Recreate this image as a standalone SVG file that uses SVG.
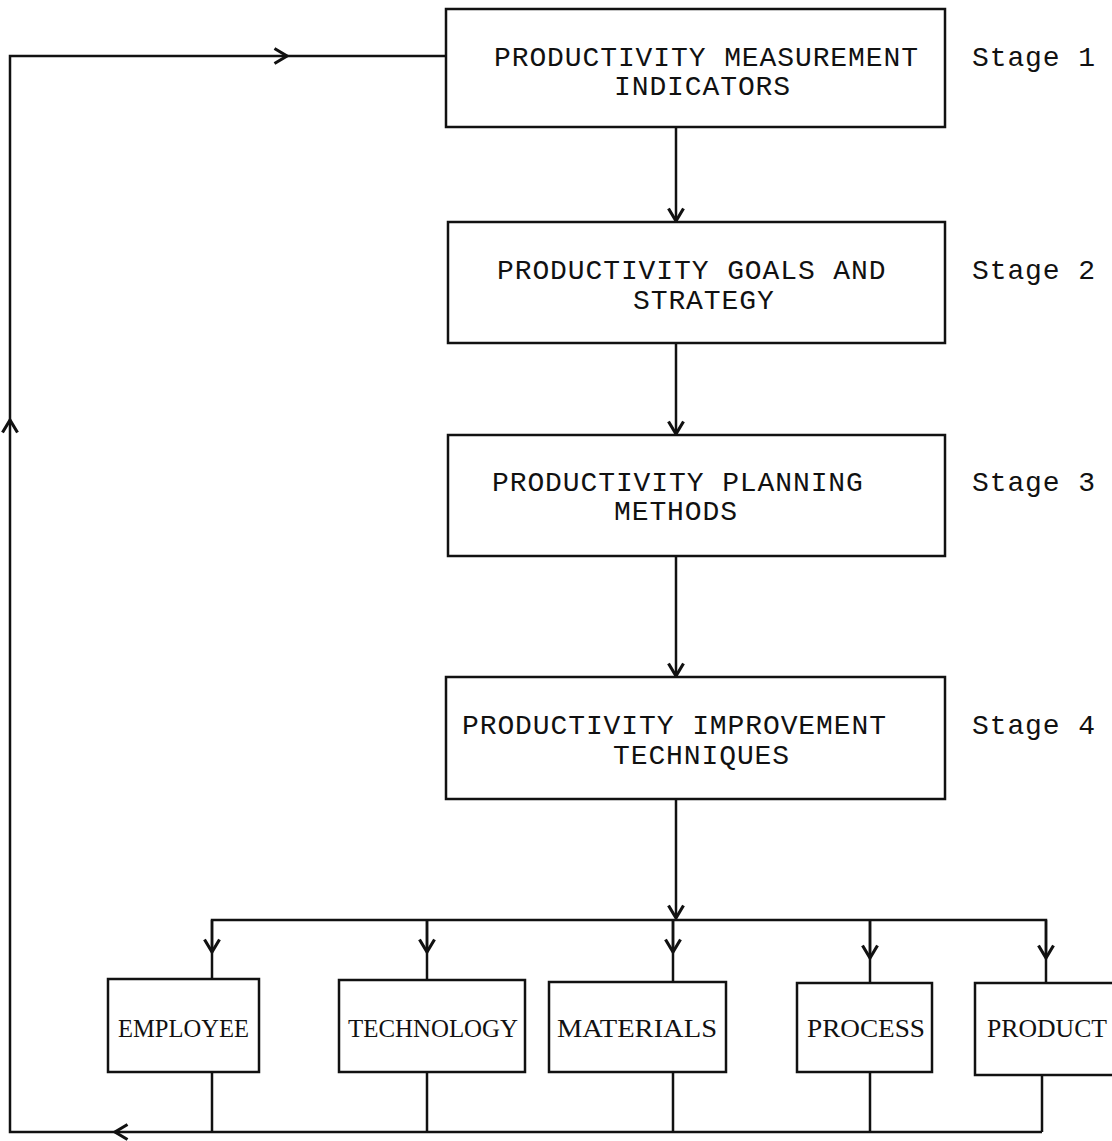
<svg xmlns="http://www.w3.org/2000/svg" width="1112" height="1141" viewBox="0 0 1112 1141">
<style>
.box{fill:#fff;stroke:#111;stroke-width:2.5}
.ln{fill:none;stroke:#111;stroke-width:2.5}
.t{font-family:"Liberation Mono","Courier New",monospace;font-size:28px;letter-spacing:0.9px;fill:#111}
.s{font-family:"Liberation Serif","Times New Roman",serif;font-size:25px;fill:#111}
</style>
<defs>
<marker id="ah" markerUnits="userSpaceOnUse" markerWidth="20" markerHeight="20" viewBox="-12 -8 14 16" refX="0" refY="0" orient="auto">
<path d="M-10,-6 L0,0 L-10,6" fill="none" stroke="#111" stroke-width="2.5"/>
</marker>
</defs>
<rect width="1112" height="1141" fill="#fff"/>
<g id="connectors">
<path class="ln" d="M676,127 V221" marker-end="url(#ah)"/>
<path class="ln" d="M676,343 V434" marker-end="url(#ah)"/>
<path class="ln" d="M676,556 V676" marker-end="url(#ah)"/>
<path class="ln" d="M676,799 V918" marker-end="url(#ah)"/>
<path class="ln" d="M212,979 V920 H1046 V983"/>
<path class="ln" d="M212,920 V952" marker-end="url(#ah)"/>
<path class="ln" d="M427,920 V952" marker-end="url(#ah)"/>
<path class="ln" d="M427,920 V980"/>
<path class="ln" d="M673,920 V952" marker-end="url(#ah)"/>
<path class="ln" d="M673,920 V982"/>
<path class="ln" d="M870,920 V958" marker-end="url(#ah)"/>
<path class="ln" d="M870,920 V983"/>
<path class="ln" d="M1046,920 V958" marker-end="url(#ah)"/>
<path class="ln" d="M212,1072 V1132 M427,1072 V1132 M673,1072 V1132 M870,1072 V1132 M1042,1075 V1132"/>
<path class="ln" d="M1042,1132 H115" marker-end="url(#ah)"/>
<path class="ln" d="M115,1132 H10 V420" marker-end="url(#ah)"/>
<path class="ln" d="M10,420 V56 H287" marker-end="url(#ah)"/>
<path class="ln" d="M287,56 H446"/>
</g>
<g id="stage1">
<rect class="box" x="446" y="9" width="499" height="118"/>
<text class="t" x="494" y="66">PRODUCTIVITY MEASUREMENT</text>
<text class="t" x="614" y="95">INDICATORS</text>
<text class="t" x="972" y="66">Stage 1</text>
</g>
<g id="stage2">
<rect class="box" x="448" y="222" width="497" height="121"/>
<text class="t" x="497" y="279">PRODUCTIVITY GOALS AND</text>
<text class="t" x="633" y="309">STRATEGY</text>
<text class="t" x="972" y="279">Stage 2</text>
</g>
<g id="stage3">
<rect class="box" x="448" y="435" width="497" height="121"/>
<text class="t" x="492" y="491">PRODUCTIVITY PLANNING</text>
<text class="t" x="614" y="520">METHODS</text>
<text class="t" x="972" y="491">Stage 3</text>
</g>
<g id="stage4">
<rect class="box" x="446" y="677" width="499" height="122"/>
<text class="t" x="462" y="734">PRODUCTIVITY IMPROVEMENT</text>
<text class="t" x="613" y="764">TECHNIQUES</text>
<text class="t" x="972" y="734">Stage 4</text>
</g>
<g id="employee">
<rect class="box" x="108" y="979" width="151" height="93"/>
<text class="s" x="118" y="1037" textLength="131" lengthAdjust="spacingAndGlyphs">EMPLOYEE</text>
</g>
<g id="technology">
<rect class="box" x="339" y="980" width="186" height="92"/>
<text class="s" x="348" y="1037" textLength="170" lengthAdjust="spacingAndGlyphs">TECHNOLOGY</text>
</g>
<g id="materials">
<rect class="box" x="549" y="982" width="177" height="90"/>
<text class="s" x="557" y="1037" textLength="160" lengthAdjust="spacingAndGlyphs">MATERIALS</text>
</g>
<g id="process">
<rect class="box" x="797" y="983" width="135" height="89"/>
<text class="s" x="807" y="1037" textLength="118" lengthAdjust="spacingAndGlyphs">PROCESS</text>
</g>
<g id="product">
<rect class="box" x="975" y="983" width="140" height="92"/>
<text class="s" x="987" y="1037" textLength="120" lengthAdjust="spacingAndGlyphs">PRODUCT</text>
</g>
</svg>
